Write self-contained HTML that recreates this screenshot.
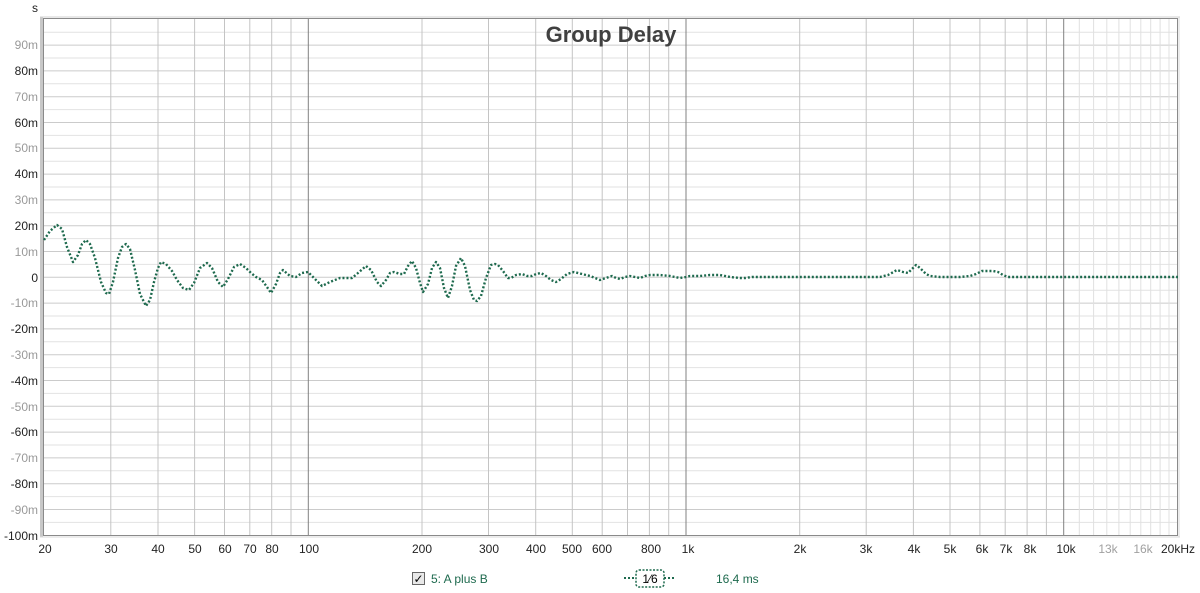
<!DOCTYPE html>
<html><head><meta charset="utf-8"><style>
html,body{margin:0;padding:0;background:#fff;}
svg{display:block;font-family:"Liberation Sans",Arial,sans-serif;}
</style></head><body>
<svg width="1200" height="593" viewBox="0 0 1200 593" xmlns="http://www.w3.org/2000/svg">
<rect width="1200" height="593" fill="#fff"/>
<!-- minor horizontal 5m lines -->
<g stroke="#e2e2e2" stroke-width="1">
<line x1="44" x2="1177" y1="32.2" y2="32.2"/><line x1="44" x2="1177" y1="58" y2="58"/>
<line x1="44" x2="1177" y1="83.8" y2="83.8"/><line x1="44" x2="1177" y1="109.6" y2="109.6"/>
<line x1="44" x2="1177" y1="135.4" y2="135.4"/><line x1="44" x2="1177" y1="161.2" y2="161.2"/>
<line x1="44" x2="1177" y1="187" y2="187"/><line x1="44" x2="1177" y1="212.8" y2="212.8"/>
<line x1="44" x2="1177" y1="238.6" y2="238.6"/><line x1="44" x2="1177" y1="264.4" y2="264.4"/>
<line x1="44" x2="1177" y1="290.2" y2="290.2"/><line x1="44" x2="1177" y1="316" y2="316"/>
<line x1="44" x2="1177" y1="341.8" y2="341.8"/><line x1="44" x2="1177" y1="367.6" y2="367.6"/>
<line x1="44" x2="1177" y1="393.4" y2="393.4"/><line x1="44" x2="1177" y1="419.2" y2="419.2"/>
<line x1="44" x2="1177" y1="445" y2="445"/><line x1="44" x2="1177" y1="470.8" y2="470.8"/>
<line x1="44" x2="1177" y1="496.6" y2="496.6"/><line x1="44" x2="1177" y1="522.4" y2="522.4"/>
</g>
<g stroke="#cbcbcb" stroke-width="1">
<line x1="44" x2="1177" y1="45.1" y2="45.1"/><line x1="44" x2="1177" y1="70.9" y2="70.9"/>
<line x1="44" x2="1177" y1="96.7" y2="96.7"/><line x1="44" x2="1177" y1="122.5" y2="122.5"/>
<line x1="44" x2="1177" y1="148.3" y2="148.3"/><line x1="44" x2="1177" y1="174.1" y2="174.1"/>
<line x1="44" x2="1177" y1="199.9" y2="199.9"/><line x1="44" x2="1177" y1="225.7" y2="225.7"/>
<line x1="44" x2="1177" y1="251.5" y2="251.5"/><line x1="44" x2="1177" y1="277.3" y2="277.3"/>
<line x1="44" x2="1177" y1="303.1" y2="303.1"/><line x1="44" x2="1177" y1="328.9" y2="328.9"/>
<line x1="44" x2="1177" y1="354.7" y2="354.7"/><line x1="44" x2="1177" y1="380.5" y2="380.5"/>
<line x1="44" x2="1177" y1="406.3" y2="406.3"/><line x1="44" x2="1177" y1="432.1" y2="432.1"/>
<line x1="44" x2="1177" y1="457.9" y2="457.9"/><line x1="44" x2="1177" y1="483.7" y2="483.7"/>
<line x1="44" x2="1177" y1="509.5" y2="509.5"/>
</g>
<!-- vertical minor -->
<g stroke="#c4c4c4" stroke-width="1">
<line x1="110.8" x2="110.8" y1="19" y2="535"/><line x1="158" x2="158" y1="19" y2="535"/>
<line x1="194.6" x2="194.6" y1="19" y2="535"/><line x1="224.5" x2="224.5" y1="19" y2="535"/>
<line x1="249.8" x2="249.8" y1="19" y2="535"/><line x1="271.7" x2="271.7" y1="19" y2="535"/>
<line x1="291" x2="291" y1="19" y2="535"/>
<line x1="422" x2="422" y1="19" y2="535"/><line x1="488.5" x2="488.5" y1="19" y2="535"/>
<line x1="535.7" x2="535.7" y1="19" y2="535"/><line x1="572.3" x2="572.3" y1="19" y2="535"/>
<line x1="602.2" x2="602.2" y1="19" y2="535"/><line x1="627.5" x2="627.5" y1="19" y2="535"/>
<line x1="649.4" x2="649.4" y1="19" y2="535"/><line x1="668.7" x2="668.7" y1="19" y2="535"/>
<line x1="799.7" x2="799.7" y1="19" y2="535"/><line x1="866.2" x2="866.2" y1="19" y2="535"/>
<line x1="913.4" x2="913.4" y1="19" y2="535"/><line x1="950" x2="950" y1="19" y2="535"/>
<line x1="979.9" x2="979.9" y1="19" y2="535"/><line x1="1005.2" x2="1005.2" y1="19" y2="535"/>
<line x1="1027.1" x2="1027.1" y1="19" y2="535"/><line x1="1046.4" x2="1046.4" y1="19" y2="535"/>
</g>
<g stroke="#e0e0e0" stroke-width="1">
<line x1="1079.3" x2="1079.3" y1="19" y2="535"/><line x1="1093.6" x2="1093.6" y1="19" y2="535"/>
<line x1="1106.8" x2="1106.8" y1="19" y2="535"/><line x1="1118.9" x2="1118.9" y1="19" y2="535"/>
<line x1="1130.2" x2="1130.2" y1="19" y2="535"/><line x1="1140.8" x2="1140.8" y1="19" y2="535"/>
<line x1="1150.7" x2="1150.7" y1="19" y2="535"/><line x1="1160.1" x2="1160.1" y1="19" y2="535"/>
<line x1="1169" x2="1169" y1="19" y2="535"/>
</g>
<g stroke="#808080" stroke-width="1">
<line x1="308.3" x2="308.3" y1="19" y2="535"/><line x1="686" x2="686" y1="19" y2="535"/>
<line x1="1063.7" x2="1063.7" y1="19" y2="535"/>
</g>
<!-- frame -->
<rect x="43.5" y="18.5" width="1134" height="517" fill="none" stroke="#8a8a8a" stroke-width="1"/>
<rect x="40" y="17" width="3" height="520" fill="#c8c8c8"/>
<line x1="40" x2="1180" y1="17" y2="17" stroke="#d0d0d0"/>
<line x1="1179" x2="1179" y1="17" y2="537" stroke="#d8d8d8"/>
<line x1="40" x2="1180" y1="537" y2="537" stroke="#d8d8d8"/>
<!-- title -->
<text x="611" y="42" text-anchor="middle" font-size="22" font-weight="bold" fill="#404040">Group Delay</text>
<!-- y labels -->
<g font-size="12" text-anchor="end">
<text x="38" y="12" fill="#222">s</text>
<text x="38" y="49" fill="#999">90m</text>
<text x="38" y="75" fill="#222">80m</text>
<text x="38" y="101" fill="#999">70m</text>
<text x="38" y="127" fill="#222">60m</text>
<text x="38" y="152" fill="#999">50m</text>
<text x="38" y="178" fill="#222">40m</text>
<text x="38" y="204" fill="#999">30m</text>
<text x="38" y="230" fill="#222">20m</text>
<text x="38" y="256" fill="#999">10m</text>
<text x="38" y="282" fill="#222">0</text>
<text x="38" y="307" fill="#999">-10m</text>
<text x="38" y="333" fill="#222">-20m</text>
<text x="38" y="359" fill="#999">-30m</text>
<text x="38" y="385" fill="#222">-40m</text>
<text x="38" y="411" fill="#999">-50m</text>
<text x="38" y="436" fill="#222">-60m</text>
<text x="38" y="462" fill="#999">-70m</text>
<text x="38" y="488" fill="#222">-80m</text>
<text x="38" y="514" fill="#999">-90m</text>
<text x="38" y="540" fill="#222">-100m</text>
</g>
<!-- x labels -->
<g font-size="12" text-anchor="middle" fill="#222">
<text x="45" y="553">20</text><text x="111" y="553">30</text><text x="158" y="553">40</text>
<text x="195" y="553">50</text><text x="225" y="553">60</text><text x="250" y="553">70</text>
<text x="272" y="553">80</text><text x="309" y="553">100</text>
<text x="422" y="553">200</text><text x="489" y="553">300</text><text x="536" y="553">400</text>
<text x="572" y="553">500</text><text x="602" y="553">600</text><text x="651" y="553">800</text>
<text x="688" y="553">1k</text><text x="800" y="553">2k</text><text x="866" y="553">3k</text>
<text x="914" y="553">4k</text><text x="950" y="553">5k</text><text x="982" y="553">6k</text>
<text x="1006" y="553">7k</text><text x="1030" y="553">8k</text><text x="1066" y="553">10k</text>
<text x="1108" y="553" fill="#a0a0a0">13k</text><text x="1143" y="553" fill="#a0a0a0">16k</text>
<text x="1178" y="553">20kHz</text>
</g>
<!-- curve -->
<polyline fill="none" stroke="#1e6a4e" stroke-width="2.4" stroke-dasharray="2,2" stroke-linejoin="round"
points="44,240 50,231 57,225 62,229 67,247 73,262 78,255 82,244 86,240 90,244 95,258 101,282 106,293 109,294 113,282 118,258 122,247 126,244 130,249 135,270 140,294 146,306 150,300 154,282 158,268 161,262 166,264 172,271 177,280 183,288 189,290 194,283 200,268 207,263 212,268 218,282 223,287 228,279 234,267 240,264 246,268 251,273 256,277 262,280 267,287 271,293 276,284 280,273 283,270 290,276 296,277 302,273 308,272 314,278 322,286 330,282 340,278 352,278 358,273 366,266 371,270 377,282 381,286 386,280 390,273 394,272 400,274 404,274 408,266 412,261 416,268 420,283 423,292 428,284 432,268 436,262 440,268 444,288 448,298 452,286 456,266 461,258 465,266 470,290 474,300 477,301 481,296 486,278 491,265 495,264 498,265 503,271 508,278 511,278 516,275 522,274 527,276 532,276 536,274 541,273 546,276 551,280 556,282 561,279 567,274 574,272 582,274 590,276 600,280 606,278 612,276 616,278 620,279 625,277 630,276 635,277 640,278 645,276 650,275 660,275 670,276 675,277 680,278 686,277 690,276 700,276 710,275 720,275 730,277 740,278 745,278 752,277 765,277 800,277 880,277 888,275 897,270 903,272 908,273 912,269 916,265 920,268 926,274 930,276 940,277 960,277 970,276 976,274 982,271 987,271 993,271 998,272 1003,275 1008,277 1030,277 1100,277 1178,277"/>
<!-- legend -->
<rect x="412.5" y="572.5" width="12" height="12" fill="#e8e8e8" stroke="#666"/>
<text x="418.5" y="583" font-size="12" text-anchor="middle" fill="#000">✓</text>
<text x="431" y="583" font-size="12" fill="#1e6a4e">5: A plus B</text>
<line x1="624" x2="636" y1="578" y2="578" stroke="#1e6a4e" stroke-width="2" stroke-dasharray="2,2"/>
<line x1="664" x2="676" y1="578" y2="578" stroke="#1e6a4e" stroke-width="2" stroke-dasharray="2,2"/>
<rect x="636" y="570" width="28" height="17" rx="3" fill="none" stroke="#1e6a4e" stroke-width="1.5" stroke-dasharray="2,1.5"/>
<text x="650" y="583" font-size="12" text-anchor="middle" fill="#000">1⁄6</text>
<text x="716" y="583" font-size="12" fill="#1e6a4e">16,4 ms</text>
</svg>
</body></html>
